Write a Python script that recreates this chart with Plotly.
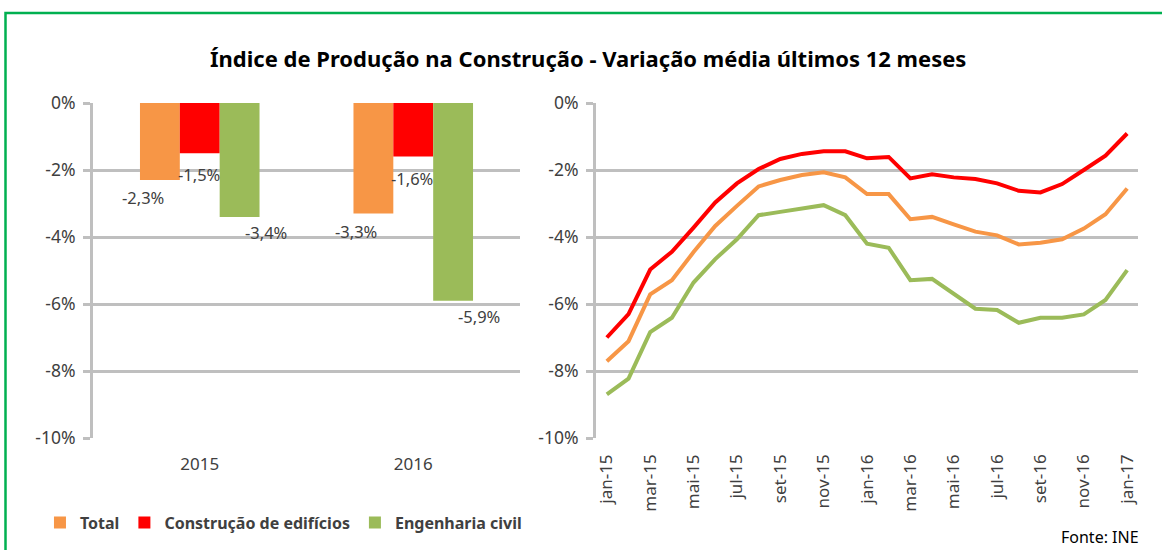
import plotly.graph_objects as go

# ---- data ----
years = ["2015", "2016"]
bar_total = [-2.3, -3.3]
bar_edif = [-1.5, -1.6]
bar_eng = [-3.4, -5.9]

months = ["jan-15", "fev-15", "mar-15", "abr-15", "mai-15", "jun-15", "jul-15", "ago-15",
          "set-15", "out-15", "nov-15", "dez-15", "jan-16", "fev-16", "mar-16", "abr-16",
          "mai-16", "jun-16", "jul-16", "ago-16", "set-16", "out-16", "nov-16", "dez-16", "jan-17"]
line_total = [-7.71, -7.11, -5.71, -5.29, -4.45, -3.67, -3.07, -2.49, -2.30, -2.15, -2.07, -2.22,
              -2.72, -2.72, -3.47, -3.40, -3.62, -3.84, -3.95, -4.22, -4.17, -4.07, -3.75, -3.32, -2.55]
line_edif = [-7.00, -6.30, -4.97, -4.44, -3.72, -2.97, -2.40, -1.97, -1.67, -1.52, -1.44, -1.44,
             -1.65, -1.61, -2.25, -2.13, -2.22, -2.27, -2.40, -2.62, -2.67, -2.42, -2.00, -1.57, -0.91]
line_eng = [-8.70, -8.23, -6.84, -6.41, -5.36, -4.66, -4.07, -3.35, -3.25, -3.15, -3.05, -3.35,
            -4.20, -4.32, -5.29, -5.25, -5.71, -6.14, -6.18, -6.56, -6.41, -6.41, -6.31, -5.88, -4.99]

y_ticks = [0, -2, -4, -6, -8, -10]
y_ticktext = ["0%", "-2%", "-4%", "-6%", "-8%", "-10%"]
series_names = ["Total", "Construção de edifícios", "Engenharia civil"]

# ---- styles ----
C_TOTAL = "#F79646"
C_EDIF = "#FF0000"
C_ENG = "#9BBB59"
GRID = "#BFBFBF"
TXT = "#404040"
FONT = "Noto Sans"

fig = go.Figure()

bar_series = [(bar_total, C_TOTAL), (bar_edif, C_EDIF), (bar_eng, C_ENG)]
for name, (vals, col) in zip(series_names, bar_series):
    fig.add_trace(go.Bar(x=years, y=vals, name="<b>" + name + "</b>",
                         marker=dict(color=col, line=dict(width=0)),
                         xaxis="x", yaxis="y", showlegend=True))

line_series = [(line_total, C_TOTAL), (line_edif, C_EDIF), (line_eng, C_ENG)]
for name, (vals, col) in zip(series_names, line_series):
    fig.add_trace(go.Scatter(x=months, y=vals, name=name, mode="lines",
                             line=dict(color=col, width=4), xaxis="x2", yaxis="y2",
                             showlegend=False))

# data labels for bars (offsets are style only)
label_xshift = {0: -57, 1: -1, 2: 66}
label_yshift = {0: -4, 1: -8, 2: -2}
annotations = []
for si, (vals, col) in enumerate(bar_series):
    for yi, v in enumerate(vals):
        annotations.append(dict(
            x=yi, y=v, xref="x", yref="y", text=("%.1f%%" % v).replace(".", ","),
            showarrow=False, xshift=label_xshift[si], yshift=label_yshift[si], yanchor="top",
            font=dict(family=FONT, size=16.5, color=TXT)))

annotations.append(dict(x=0.506, y=0.895, xref="paper", yref="paper",
                        text="<b>Índice de Produção na Construção - Variação média últimos 12 meses</b>",
                        showarrow=False, xanchor="center", yanchor="middle",
                        font=dict(family=FONT, size=22, color="#000000")))
annotations.append(dict(x=0.982, y=0.024, xref="paper", yref="paper", text="Fonte: INE",
                        showarrow=False, xanchor="right", yanchor="middle",
                        font=dict(family=FONT, size=16, color="#000000")))

ydom = [1 - 438 / 550, 1 - 103 / 550]


def yaxis_common():
    return dict(range=[-10, 0], tickmode="array", tickvals=y_ticks, ticktext=y_ticktext,
                showgrid=True, gridcolor=GRID, gridwidth=3, zeroline=False, showline=True,
                linecolor=GRID, linewidth=3, ticks="outside", ticklen=7, tickwidth=3,
                tickcolor=GRID, tickfont=dict(family=FONT, size=17.5, color=TXT), domain=ydom,
                ticklabelstandoff=4, automargin=False, fixedrange=True)


fig.update_layout(
    width=1162, height=550, margin=dict(l=0, r=0, t=0, b=0, autoexpand=False),
    paper_bgcolor="white", plot_bgcolor="white",
    barmode="group", bargap=0.44, bargroupgap=0,
    xaxis=dict(domain=[93 / 1162, 520 / 1162], type="category", categoryorder="array",
               categoryarray=years, range=[-0.5, 1.5], showgrid=False, showline=False,
               ticks="", tickfont=dict(family=FONT, size=17, color=TXT), anchor="y",
               ticklabelstandoff=14, automargin=False, fixedrange=True),
    yaxis=dict(anchor="x", **yaxis_common()),
    xaxis2=dict(domain=[596 / 1162, 1138 / 1162], type="category", range=[-0.5, 24.5],
                tickmode="array", tickvals=months[::2], ticktext=months[::2], tickangle=-90,
                showgrid=False, showline=False, ticks="",
                tickfont=dict(family=FONT, size=17, color=TXT), anchor="y2",
                ticklabelstandoff=12, automargin=False, fixedrange=True),
    yaxis2=dict(anchor="x2", **yaxis_common()),
    legend=dict(orientation="h", x=0.0344, y=0.05, xanchor="left", yanchor="middle",
                font=dict(family=FONT, size=16, color=TXT), traceorder="normal",
                bgcolor="rgba(0,0,0,0)"),
    annotations=annotations,
    shapes=[dict(type="rect", xref="paper", yref="paper", x0=5.5 / 1162, x1=1.01,
                 y0=-0.01, y1=1 - 13 / 550, line=dict(color="#00B050", width=2.5))],
    showlegend=True,
)

fig.write_html("out.html", config={"displayModeBar": False},
               post_script="document.body.style.margin='0';")
